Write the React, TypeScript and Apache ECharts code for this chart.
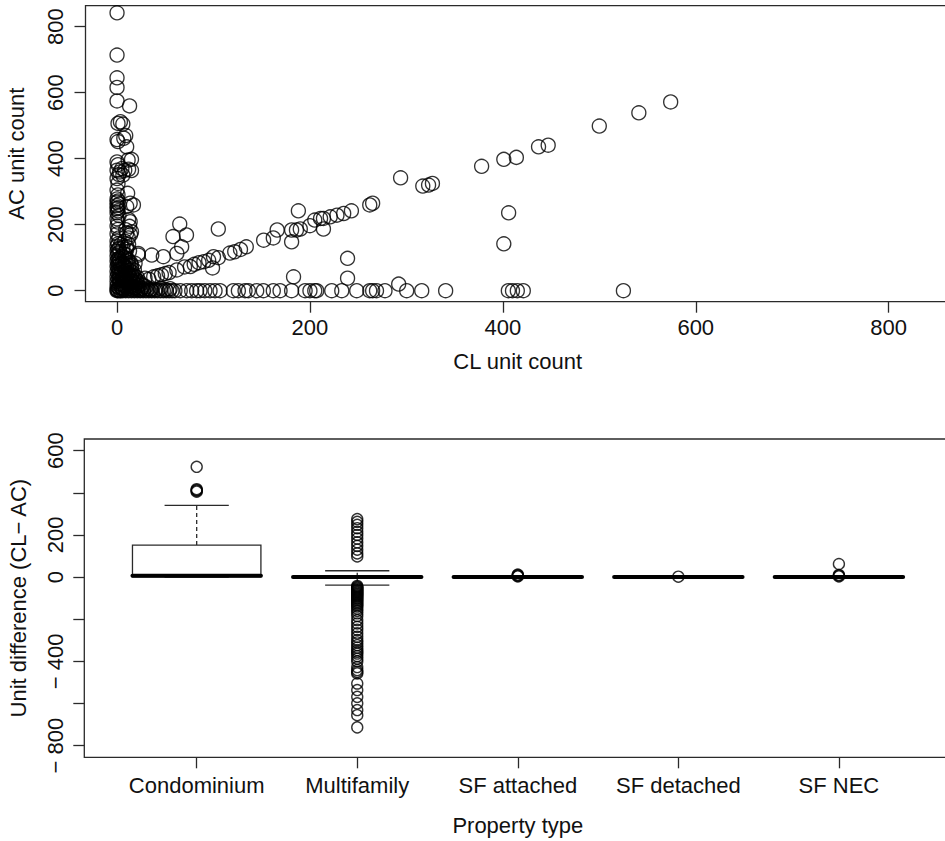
import React, { useEffect, useRef } from "react";
import * as echarts from "echarts";

// ---------- Top panel: CL unit count (x) vs AC unit count (y) ----------
const zeroColumn: number[][] = [
  [0, 842], [0, 714], [0, 645], [0, 616], [0, 575], [1, 507], [0, 458], [1, 452], [0, 390], [1, 382],
  [0, 365], [2, 352], [0, 340], [1, 325], [0, 305], [1, 290], [0, 278], [1, 272], [0, 268], [2, 262],
  [0, 258], [1, 252], [0, 248], [1, 242], [0, 236], [2, 228], [0, 218], [1, 208], [0, 196], [1, 186],
  [0, 172], [2, 160], [0, 150], [1, 142], [0, 135], [2, 128], [0, 120], [1, 112], [0, 105], [2, 98],
  [0, 90], [1, 82], [0, 74], [2, 66], [0, 58], [1, 50], [0, 42], [2, 35], [0, 28], [1, 20],
  [0, 14], [2, 8], [0, 4], [1, 0],
];
const nearZeroColumn: number[][] = [
  [13, 560], [3.5, 512], [6, 505], [9, 470], [7, 462], [10, 436], [11.5, 396], [15, 398], [5, 370], [8, 365],
  [12, 368], [15, 364], [3, 360], [6, 350], [11, 295], [13.6, 265], [17, 260], [10, 255], [12, 216], [13.6, 209],
  [13, 195], [15, 179], [9, 185], [10, 175], [14, 170], [11.7, 160], [8, 150], [12, 140], [10, 133], [13, 120],
  [6, 130], [22, 113], [9, 110], [11, 95], [18.7, 83], [14, 85], [5, 80], [8, 72], [15.2, 48],
];
const originCluster: number[][] = [
  [1, 95], [2, 88], [3, 80], [1, 72], [4, 66], [2, 60], [5, 55], [3, 48], [6, 44], [2, 38],
  [4, 32], [7, 28], [3, 22], [5, 18], [8, 14], [2, 10], [6, 6], [9, 3], [4, 0], [1, 2],
  [12, 90], [15, 78], [10, 70], [13, 62], [16, 55], [11, 50], [18, 45], [14, 38], [20, 32], [17, 26],
  [12, 20], [22, 15], [19, 10], [15, 5], [24, 2], [10, 12], [7, 40], [9, 58], [6, 85], [8, 100],
  [11, 35], [14, 24], [16, 12], [20, 6], [25, 20], [23, 28], [18, 62], [21, 40], [9, 25], [5, 8],
  [13, 8], [17, 3], [26, 8], [28, 4], [30, 12], [32, 6], [35, 2], [27, 16], [3, 118], [1, 125],
  [5, 105], [7, 112], [10, 125], [4, 140], [3, 30], [6, 20], [8, 34], [10, 44], [12, 54], [4, 12],
  [7, 4], [11, 6], [14, 14], [16, 30], [19, 20], [21, 24], [18, 8], [22, 4], [2, 52], [5, 64],
  [7, 76], [3, 92], [9, 88], [12, 76], [15, 66], [17, 40], [13, 46], [8, 50], [6, 36], [10, 28],
];
const bottomRow: number[][] = [
  [0, 0], [3, 0], [6, 0], [9, 0], [12, 0], [15, 0], [18, 0], [21, 0], [24, 0], [27, 0],
  [30, 0], [33, 0], [36, 0], [39, 0], [42, 0], [45, 0], [48, 0], [51, 0], [54, 0], [57, 0],
  [35, 5], [40, 3], [45, 8], [50, 4], [55, 6], [60, 0], [65.5, 0], [72.3, 0], [77.4, 0], [82.5, 0],
  [86, 0], [91, 0], [96.4, 0], [101.6, 0], [106.8, 0], [120.6, 0], [125.8, 0], [132.7, 0], [136.2, 0], [144.8, 0],
  [151.7, 0], [162, 0], [169, 0], [181, 0], [195, 0], [200, 0], [205, 0], [207, 0], [222.6, 0], [233, 0],
  [248.5, 0], [262, 0], [265, 0], [269, 0], [277.8, 0], [300.3, 0], [315.9, 0], [340.7, 0], [405.7, 0], [410, 0],
  [415, 0], [421.2, 0], [525, 0],
];
const diagonal: number[][] = [
  [29, 38], [33, 35], [38, 42], [42, 45], [46, 48], [50, 52], [54, 55], [62, 63], [70, 72], [76, 73],
  [80, 80], [85, 85], [90, 88], [95, 92], [100, 103], [99, 69], [105, 100], [117, 114], [122, 118], [128, 125],
  [134, 133], [152, 153], [162, 160], [166, 184], [181, 184], [181, 148], [186, 184], [188, 242], [190, 187], [200, 197],
  [205, 214], [211, 219], [214, 187], [214, 219], [221, 224], [228, 229], [235, 234], [243, 242], [262, 260], [265, 265],
  [294, 342], [317, 317], [323, 320], [327, 325], [378, 377], [401, 398], [414, 404], [437, 436], [447, 441], [500, 499],
  [541, 539], [574, 572],
];
const scattered: number[][] = [
  [22, 108], [36, 108], [48, 103], [65, 202], [72, 169], [58, 164], [67, 133], [62, 113], [105, 187], [183, 42],
  [239, 98], [239, 38], [292, 20], [406, 236], [401, 142],
];

// ---------- Bottom panel: unit difference by property type ----------
const propertyTypes = ["Condominium", "Multifamily", "SF attached", "SF detached", "SF NEC"];
const boxMin = [0, -38, 0, 0, 0];
const boxQ1 = [1, 0, 0, 0, 0];
const boxMedian = [6, 0, 0, 0, 0];
const boxQ3 = [152, 2, 0, 0, 0];
const boxMax = [340, 30, 0, 0, 0];
const condoOutliers = [523, 417, 413, 410, 405];
const multifamilyOutliers = [
  275, 262, 248, 232, 215, 200, 183, 165, 148, 130, 112, 98,
  -42, -46, -50, -54, -58, -62, -66, -70, -74, -78, -82, -86, -90, -95, -100, -105, -110, -116, -122, -128,
  -134, -140, -150, -160, -172, -185, -204, -220, -236, -250, -267, -283, -299, -310, -323, -335, -346, -355,
  -363, -375, -387, -400, -427, -441, -450, -457, -505, -536, -568, -599, -631, -655, -713,
];
const sfAttachedOutliers = [3, 6, 9, 12];
const sfDetachedOutliers = [2];
const sfNecOutliers = [3, 7, 10, 62];

const FONT = "'Liberation Sans', Arial, Helvetica, sans-serif";
const INK = "#111";
const LINE = "#2a2a2a";

export default function App() {
  const ref = useRef<HTMLDivElement>(null);
  useEffect(() => {
    if (!ref.current) return;
    const chart = echarts.init(ref.current, undefined, { renderer: "svg" });

    const scatterData = [
      ...zeroColumn, ...nearZeroColumn, ...originCluster, ...bottomRow, ...diagonal, ...scattered,
    ];
    const boxData = propertyTypes.map((_, i) => [i + 1, boxMin[i], boxQ1[i], boxMedian[i], boxQ3[i], boxMax[i]]);
    const outlierGroups = [condoOutliers, multifamilyOutliers, sfAttachedOutliers, sfDetachedOutliers, sfNecOutliers];
    const outlierData: number[][] = [];
    outlierGroups.forEach((g, i) => g.forEach((v) => outlierData.push([i + 1, v])));

    const minus = (v: number) => (v < 0 ? "\u2212 " + Math.abs(v) : String(v));

    const tickStyle = { show: true, length: 11, inside: false, lineStyle: { color: LINE, width: 1.3 } };
    const labelStyle = { fontSize: 22, fontFamily: FONT, color: INK };
    const nameStyle = { fontSize: 22, fontFamily: FONT, color: INK };
    const noLine = { show: false, onZero: false };

    const option: any = {
      animation: false,
      backgroundColor: "#fff",
      grid: [
        { left: 85.5, top: 5.7, width: 864.5, height: 296, show: true, borderColor: LINE, borderWidth: 1.3, backgroundColor: "transparent", containLabel: false, outerBoundsMode: "none" },
        { left: 84.3, top: 439, width: 867, height: 318.3, show: true, borderColor: LINE, borderWidth: 1.3, backgroundColor: "transparent", containLabel: false, outerBoundsMode: "none" },
      ],
      xAxis: [
        {
          type: "value", gridIndex: 0, min: -32.7, max: 863.6, position: "bottom",
          axisLine: noLine, splitLine: { show: false },
          axisTick: { ...tickStyle, customValues: [0, 200, 400, 600, 800] },
          axisLabel: { ...labelStyle, margin: 15, customValues: [0, 200, 400, 600, 800] },
          name: "CL unit count", nameLocation: "middle", nameGap: 49, nameTextStyle: nameStyle,
        },
        {
          type: "value", gridIndex: 1, min: 0.3, max: 5.7, position: "bottom",
          axisLine: noLine, splitLine: { show: false },
          axisTick: { ...tickStyle, customValues: [1, 2, 3, 4, 5] },
          axisLabel: {
            ...labelStyle, margin: 17, customValues: [1, 2, 3, 4, 5],
            formatter: (v: number) => propertyTypes[Math.round(v) - 1] ?? "",
          },
          name: "Property type", nameLocation: "middle", nameGap: 57, nameTextStyle: nameStyle,
        },
      ],
      yAxis: [
        {
          type: "value", gridIndex: 0, min: -33.3, max: 863.6, position: "left",
          axisLine: noLine, splitLine: { show: false },
          axisTick: { ...tickStyle, customValues: [0, 200, 400, 600, 800] },
          axisLabel: { ...labelStyle, margin: 19, rotate: 90, customValues: [0, 200, 400, 600, 800] },
          name: "AC unit count", nameLocation: "middle", nameGap: 58, nameTextStyle: nameStyle,
        },
        {
          type: "value", gridIndex: 1, min: -855, max: 655, position: "left",
          axisLine: noLine, splitLine: { show: false },
          axisTick: { ...tickStyle, customValues: [-800, -600, -400, -200, 0, 200, 400, 600] },
          axisLabel: {
            ...labelStyle, margin: 18, rotate: 90, customValues: [-800, -400, 0, 200, 600],
            formatter: (v: number) => minus(v),
          },
          name: "Unit difference (CL\u2212 AC)", nameLocation: "middle", nameGap: 55, nameTextStyle: nameStyle,
        },
      ],
      series: [
        {
          type: "scatter", xAxisIndex: 0, yAxisIndex: 0, data: scatterData,
          symbol: "circle", symbolSize: 14, silent: true,
          itemStyle: { color: "rgba(0,0,0,0)", borderColor: "#000", borderWidth: 1.35 },
        },
        {
          type: "custom", xAxisIndex: 1, yAxisIndex: 1, data: boxData, silent: true,
          encode: { x: 0, y: [1, 2, 3, 4, 5] },
          renderItem: (params: any, api: any) => {
            const cat = api.value(0);
            const vmin = api.value(1), q1 = api.value(2), med = api.value(3), q3 = api.value(4), vmax = api.value(5);
            const half = api.size([0.4, 0])[0];
            const capHalf = half / 2;
            const c = (v: number) => api.coord([cat, v]);
            const [cx, yMed] = c(med);
            const yQ1 = c(q1)[1], yQ3 = c(q3)[1], yMin = c(vmin)[1], yMax = c(vmax)[1];
            const stroke = { stroke: LINE, lineWidth: 1.3, fill: "none" };
            const children: any[] = [];
            children.push({ type: "line", shape: { x1: cx, y1: yQ3, x2: cx, y2: yMax }, style: { ...stroke, lineDash: [4, 3] } });
            children.push({ type: "line", shape: { x1: cx, y1: yQ1, x2: cx, y2: yMin }, style: { ...stroke, lineDash: [4, 3] } });
            children.push({ type: "line", shape: { x1: cx - capHalf, y1: yMax, x2: cx + capHalf, y2: yMax }, style: stroke });
            children.push({ type: "line", shape: { x1: cx - capHalf, y1: yMin, x2: cx + capHalf, y2: yMin }, style: stroke });
            children.push({
              type: "rect",
              shape: { x: cx - half, y: yQ3, width: half * 2, height: Math.max(0, yQ1 - yQ3) },
              style: { stroke: LINE, lineWidth: 1.3, fill: "#fff" },
            });
            children.push({ type: "line", shape: { x1: cx - half, y1: yMed, x2: cx + half, y2: yMed }, style: { stroke: "#000", lineWidth: 4, lineCap: "round" } });
            return { type: "group", children };
          },
        },
        {
          type: "scatter", xAxisIndex: 1, yAxisIndex: 1, data: outlierData,
          symbol: "circle", symbolSize: 11, silent: true,
          itemStyle: { color: "rgba(0,0,0,0)", borderColor: "#000", borderWidth: 1.4 },
        },
      ],
    };
    chart.setOption(option);
    return () => chart.dispose();
  }, []);
  return <div ref={ref} style={{ position: "fixed", left: 0, top: 0, width: 945, height: 841, background: "#fff" }} />;
}
